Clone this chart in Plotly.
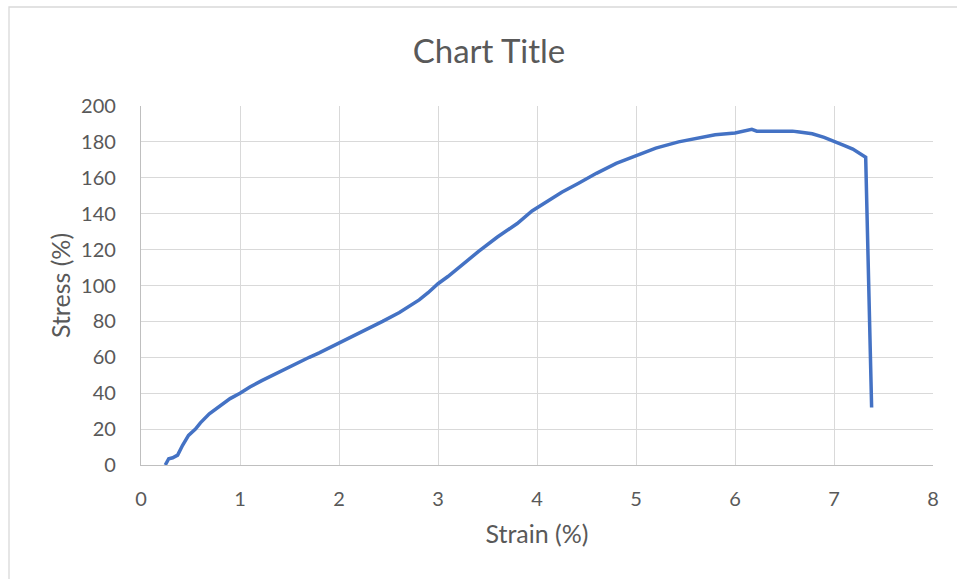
import plotly.graph_objects as go

strain = [0.245, 0.28, 0.32, 0.37, 0.42, 0.48, 0.55, 0.60, 0.69, 0.80, 0.90, 1.00,
          1.10, 1.22, 1.40, 1.56, 1.70, 1.80, 2.00, 2.20, 2.44, 2.61, 2.70, 2.81,
          2.90, 3.00, 3.10, 3.25, 3.41, 3.60, 3.80, 3.95, 4.10, 4.25, 4.42, 4.60,
          4.80, 5.00, 5.20, 5.43, 5.60, 5.80, 6.00, 6.10, 6.17, 6.22, 6.40, 6.58,
          6.65, 6.78, 6.90, 7.00, 7.10, 7.19, 7.32, 7.38]
stress = [0, 3.5, 4, 5.5, 11, 16.5, 20, 23.5, 28.5, 33, 37, 40,
          43.5, 47, 52, 56.5, 60, 62.5, 68, 73, 80, 85, 88, 92,
          96, 101, 105, 112, 119, 127, 134.5, 141.5, 146.5, 152, 157, 162.5,
          168, 172.5, 176.5, 180, 182, 184, 185, 186, 187, 186, 186, 186,
          185.5, 184.5, 182.5, 180, 178, 176, 171.5, 32]

x_ticks = [0, 1, 2, 3, 4, 5, 6, 7, 8]
y_ticks = [0, 20, 40, 60, 80, 100, 120, 140, 160, 180, 200]

TEXT = "#595959"
FONT = "Lato"

fig = go.Figure()
fig.add_trace(go.Scatter(x=strain, y=stress, mode="lines",
                         line=dict(color="#4472C4", width=3.5),
                         hoverinfo="x+y", showlegend=False))

W, H = 957, 579
L, R, T, B = 141, 24, 106, 114
pw, ph = W - L - R, H - T - B

def px_x(p):
    return (p - L) / pw

def px_y(p):
    return (H - B - p) / ph

fig.update_layout(
    width=W, height=H,
    margin=dict(l=L, r=R, t=T, b=B),
    paper_bgcolor="white", plot_bgcolor="white",
    font=dict(family=FONT, color=TEXT, size=19),
    title=dict(text="Chart Title", x=489 / W, xref="container", xanchor="center",
               y=1 - 51 / H, yref="container", yanchor="middle",
               font=dict(size=33, color=TEXT, family=FONT)),
    xaxis=dict(range=[0, 8], tickvals=x_ticks, ticktext=[str(v) for v in x_ticks],
               showgrid=True, gridcolor="#d9d9d9", gridwidth=1.3,
               zeroline=False, showline=True, linecolor="#bfbfbf", linewidth=1.3,
               mirror=False, ticks="outside", ticklen=16, tickcolor="rgba(0,0,0,0)",
               tickfont=dict(size=20, color=TEXT, family=FONT),
               title=dict(text="Strain (%)", standoff=16,
                          font=dict(size=25, color=TEXT, family=FONT))),
    yaxis=dict(range=[0, 200], tickvals=y_ticks, ticktext=[str(v) for v in y_ticks],
               showgrid=True, gridcolor="#d9d9d9", gridwidth=1.3,
               zeroline=False, showline=True, linecolor="#bfbfbf", linewidth=1.3,
               ticks="outside", ticklen=20, tickcolor="rgba(0,0,0,0)",
               tickfont=dict(size=20, color=TEXT, family=FONT),
               title=dict(text="Stress (%)", standoff=3,
                          font=dict(size=25, color=TEXT, family=FONT))),
    shapes=[dict(type="rect", xref="paper", yref="paper",
                 x0=px_x(9), x1=px_x(970), y0=px_y(590), y1=px_y(7),
                 line=dict(color="#d9d9d9", width=1.3), fillcolor="rgba(0,0,0,0)",
                 layer="below")],
)

fig.write_html("out.html")
